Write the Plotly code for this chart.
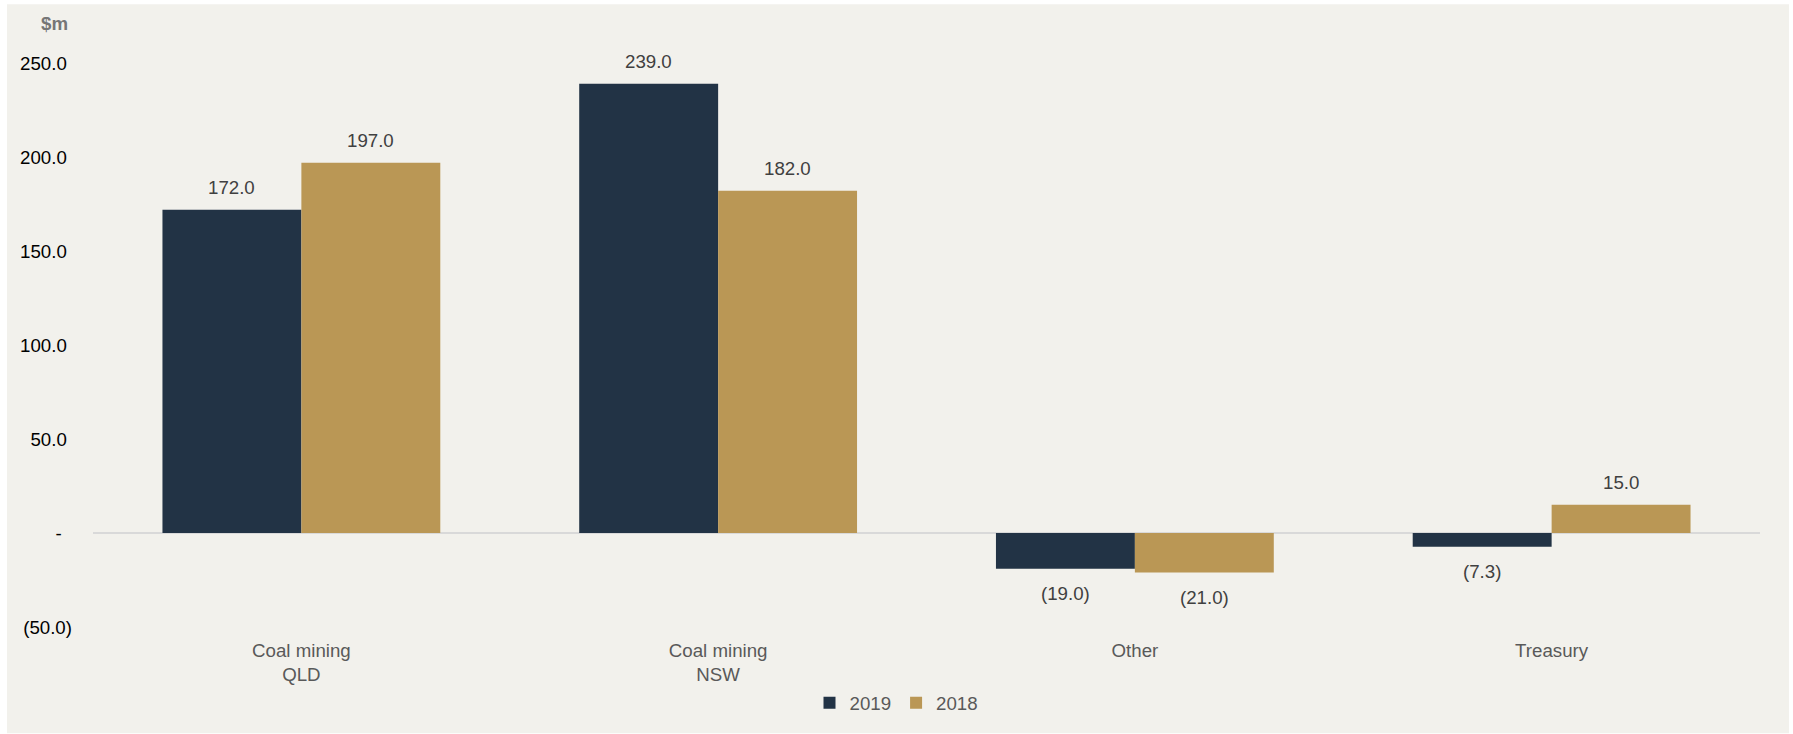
import plotly.graph_objects as go

# Segment results ($m)
categories = ["Coal mining<br>QLD", "Coal mining<br>NSW", "Other", "Treasury"]
values_2019 = [172.0, 239.0, -19.0, -7.3]
values_2018 = [197.0, 182.0, -21.0, 15.0]
series_names = ["2019", "2018"]

y_tickvals = [-50, 0, 50, 100, 150, 200, 250]
y_ticktext = ["(50.0)", "-\u00a0\u00a0", "50.0\u00a0", "100.0\u00a0", "150.0\u00a0",
              "200.0\u00a0", "250.0\u00a0"]

NAVY = "#223345"
GOLD = "#BA9755"
PANEL = "#F2F1EC"
FONT = "Liberation Sans, Arial, sans-serif"
FS = 18.7
BARGAP = 1 / 3


def fmt(v):
    return f"({abs(v):.1f})" if v < 0 else f"{v:.1f}"


fig = go.Figure()
for name, vals, col in [(series_names[0], values_2019, NAVY),
                        (series_names[1], values_2018, GOLD)]:
    fig.add_trace(go.Bar(name=name, x=categories, y=vals, marker_color=col,
                         marker_line_width=0, hoverinfo="skip"))

# value labels placed at each bar's centre, above positives / below negatives
half = (1 - BARGAP) / 4
annotations = []
for s, vals in enumerate([values_2019, values_2018]):
    off = -half if s == 0 else half
    for i, v in enumerate(vals):
        annotations.append(dict(
            x=i + off, y=v, xref="x", yref="y", text=fmt(v), showarrow=False,
            yshift=22 if v >= 0 else -25, yanchor="middle", xanchor="center",
            font=dict(family=FONT, size=FS, color="#404040")))

annotations.append(dict(
    x=-0.0138, y=1.0704, xref="paper", yref="paper", text="<b>$m</b>",
    showarrow=False, xanchor="right", yanchor="middle",
    font=dict(family=FONT, size=FS, color="#767676")))

fig.update_layout(
    width=1793, height=734,
    margin=dict(l=93, r=33, t=63, b=107, autoexpand=False),
    paper_bgcolor="white",
    plot_bgcolor="rgba(0,0,0,0)",
    barmode="group", bargap=BARGAP, bargroupgap=0,
    font=dict(family=FONT, size=FS, color="#595959"),
    showlegend=True,
    legend=dict(orientation="h", xref="container", yref="container",
                x=0.5, xanchor="center", y=0.042, yanchor="middle",
                font=dict(family=FONT, size=FS, color="#595959"),
                itemwidth=30, bgcolor="rgba(0,0,0,0)"),
    annotations=annotations,
    shapes=[dict(type="rect", xref="paper", yref="paper", layer="below",
                 x0=-0.0516, x1=1.0174, y0=-0.1885, y1=1.104,
                 fillcolor=PANEL, line_width=0)],
)

fig.update_xaxes(showgrid=False, showline=False, zeroline=False, ticks="",
                 ticklabelstandoff=10, automargin=False,
                 tickfont=dict(family=FONT, size=FS, color="#595959"))
fig.update_yaxes(range=[-50, 250], tickvals=y_tickvals, ticktext=y_ticktext,
                 showgrid=False, showline=False, ticks="",
                 ticklabelstandoff=20, automargin=False,
                 zeroline=True, zerolinecolor="#D9D9D9", zerolinewidth=2,
                 tickfont=dict(family=FONT, size=FS, color="#000000"))

fig.write_html("out.html")
